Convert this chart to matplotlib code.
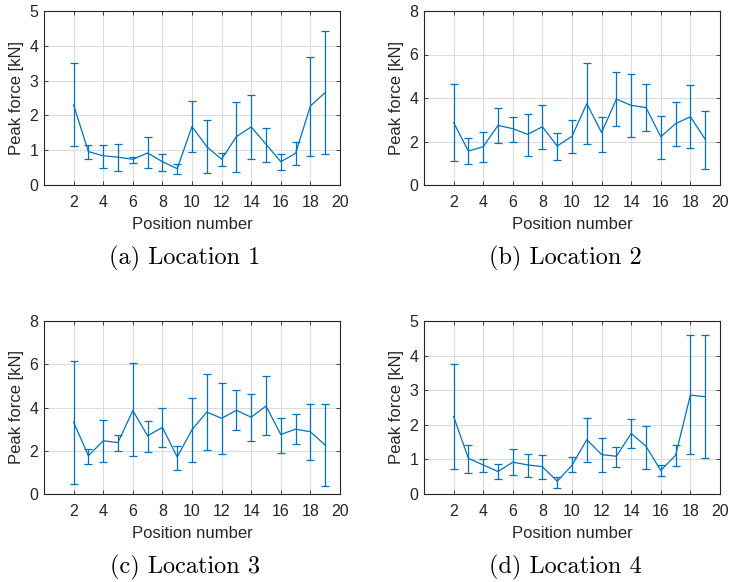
import matplotlib
matplotlib.use("Agg")
import matplotlib.pyplot as plt
import numpy as np

positions = list(range(2, 20))

# Location 1
loc1_mean = [2.30, 0.96, 0.84, 0.80, 0.74, 0.92, 0.67, 0.47, 1.68, 1.10, 0.74, 1.39, 1.67, 1.17, 0.67, 0.91, 2.27, 2.66]
loc1_low = [1.13, 0.75, 0.50, 0.41, 0.64, 0.48, 0.41, 0.32, 0.94, 0.35, 0.56, 0.38, 0.75, 0.67, 0.42, 0.57, 0.83, 0.90]
loc1_high = [3.50, 1.16, 1.16, 1.18, 0.81, 1.39, 0.90, 0.60, 2.42, 1.88, 0.93, 2.38, 2.59, 1.63, 0.90, 1.25, 3.69, 4.43]

# Location 2
loc2_mean = [2.87, 1.56, 1.76, 2.74, 2.59, 2.33, 2.68, 1.79, 2.24, 3.74, 2.41, 3.95, 3.66, 3.56, 2.22, 2.82, 3.14, 2.10]
loc2_low = [1.09, 0.95, 1.04, 1.92, 1.99, 1.35, 1.67, 1.13, 1.49, 1.90, 1.53, 2.73, 2.21, 2.47, 1.18, 1.79, 1.72, 0.75]
loc2_high = [4.66, 2.18, 2.45, 3.56, 3.14, 3.28, 3.68, 2.41, 3.00, 5.62, 3.13, 5.20, 5.12, 4.63, 3.19, 3.83, 4.60, 3.42]

# Location 3
loc3_mean = [3.32, 1.77, 2.46, 2.38, 3.86, 2.69, 3.08, 1.71, 2.97, 3.79, 3.50, 3.87, 3.55, 4.07, 2.75, 3.00, 2.88, 2.26]
loc3_low = [0.48, 1.38, 1.46, 2.00, 1.74, 1.94, 2.18, 1.11, 1.48, 2.04, 1.85, 2.95, 2.45, 2.71, 1.91, 2.29, 1.58, 0.37]
loc3_high = [6.17, 2.09, 3.43, 2.75, 6.08, 3.38, 4.00, 2.20, 4.45, 5.56, 5.13, 4.81, 4.63, 5.45, 3.53, 3.71, 4.17, 4.17]

# Location 4
loc4_mean = [2.24, 1.03, 0.84, 0.65, 0.92, 0.84, 0.79, 0.37, 0.83, 1.57, 1.14, 1.09, 1.75, 1.38, 0.68, 1.12, 2.86, 2.81]
loc4_low = [0.72, 0.61, 0.63, 0.43, 0.55, 0.50, 0.44, 0.18, 0.63, 0.92, 0.64, 0.79, 1.34, 0.73, 0.51, 0.81, 1.16, 1.05]
loc4_high = [3.75, 1.43, 1.02, 0.86, 1.29, 1.16, 1.12, 0.48, 1.07, 2.21, 1.63, 1.36, 2.18, 1.96, 0.83, 1.41, 4.59, 4.59]

captions = ["(a) Location 1", "(b) Location 2", "(c) Location 3", "(d) Location 4"]
ylims = [5, 8, 8, 5]
ysteps = [1, 2, 2, 1]
xticks = list(range(2, 21, 2))
xlabel = "Position number"
ylabel = "Peak force [kN]"

data = [(loc1_mean, loc1_low, loc1_high), (loc2_mean, loc2_low, loc2_high),
        (loc3_mean, loc3_low, loc3_high), (loc4_mean, loc4_low, loc4_high)]

W, H = 729, 582
fig = plt.figure(figsize=(W / 100, H / 100), dpi=100)

# axes boxes in pixels: left, top, right, bottom
boxes = [(44, 11, 340, 185), (424, 11, 720, 185), (44, 321, 340, 494), (424, 321, 720, 494)]
cap_y = [258, 258, 567, 567]

color = "#0072BD"
sans = ["Liberation Sans", "DejaVu Sans"]
axcol = "#262626"

for i, (mean, low, high) in enumerate(data):
    l, t, r, b = boxes[i]
    ax = fig.add_axes([l / W, 1 - b / H, (r - l) / W, (b - t) / H])
    m = np.array(mean)
    lo = np.array(low)
    hi = np.array(high)
    ax.errorbar(positions, m, yerr=[m - lo, hi - m], color=color, lw=0.9,
                elinewidth=0.9, capsize=3, capthick=0.9)
    ax.set_xlim(0, 20)
    ax.set_ylim(0, ylims[i])
    ax.set_xticks(xticks)
    ax.set_yticks(np.arange(0, ylims[i] + 0.01, ysteps[i]))
    ax.grid(True, color="#dcdcdc", lw=0.8)
    ax.set_axisbelow(True)
    ax.tick_params(direction="in", top=True, right=True, length=3, width=0.6,
                   color=axcol, labelcolor=axcol, labelsize=11.5)
    ax.tick_params(axis="x", pad=7.5)
    ax.tick_params(axis="y", pad=4)
    for lab in ax.get_xticklabels() + ax.get_yticklabels():
        lab.set_family(sans)
    for s in ax.spines.values():
        s.set_color(axcol)
        s.set_linewidth(0.8)
    ax.set_xlabel(xlabel, fontsize=12, family=sans, color=axcol, labelpad=5)
    ax.set_ylabel(ylabel, fontsize=12, family=sans, color=axcol, labelpad=4)
    fig.text(((l + r) / 2 - 7) / W, 1 - cap_y[i] / H, captions[i], ha="center", va="center",
             fontsize=17.5, family="cmr10")

fig.savefig("out.png", dpi=100)
